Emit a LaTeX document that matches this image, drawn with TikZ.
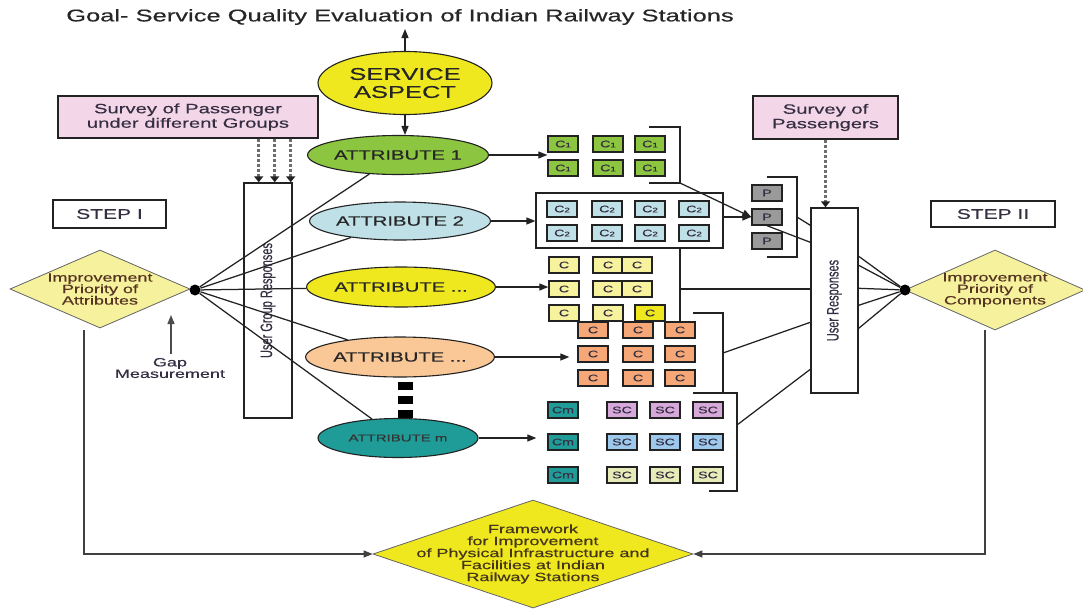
\documentclass[tikz,border=0pt]{standalone}
\usepackage{fontspec}
\setmainfont{Liberation Sans}[FakeStretch=1.5,FakeBold=0.4]
\newfontfamily\uprightsans{Liberation Sans}[FakeBold=0.4]
\usetikzlibrary{shapes.geometric,arrows.meta,calc}

\definecolor{inkline}{HTML}{222222}
\definecolor{txt}{HTML}{352E42}
\definecolor{txtbrown}{HTML}{553421}
\definecolor{txtolive}{HTML}{45361B}
\definecolor{surveypink}{HTML}{F3D6E7}
\definecolor{brightyellow}{HTML}{EFE81E}
\definecolor{attrgreen}{HTML}{8CC540}
\definecolor{attrblue}{HTML}{BEE0E6}
\definecolor{attrpeach}{HTML}{FAC797}
\definecolor{attrteal}{HTML}{1F9C98}
\definecolor{paleyellow}{HTML}{F7F29E}
\definecolor{salmon}{HTML}{F6A777}
\definecolor{lilac}{HTML}{D7A8DA}
\definecolor{skyblue}{HTML}{9DC9EC}
\definecolor{paleolive}{HTML}{E6EBB7}
\definecolor{pgray}{HTML}{9A9A9A}
\definecolor{dotgray}{HTML}{6E6E6E}
\definecolor{diamondyellow}{HTML}{F5F19C}

\newcommand{\setfs}[2]{\fontsize{#1}{#2}\selectfont}
\newcommand{\smalldigit}[1]{{\setfs{6.5}{7}#1}}

\begin{document}
\begin{tikzpicture}[x=1pt,y=-1pt,
  every node/.style={text=txt},
  conn/.style={draw=inkline,line width=1.25pt},
  arr/.style={conn,-{Triangle[length=9pt,width=7pt]}},
  dotarr/.style={draw=dotgray,line width=2.5pt,dash pattern=on 3pt off 2pt,
                 -{Triangle[length=6pt,width=9pt,color=inkline]}},
  plainbox/.style={rectangle,draw=inkline,line width=1.4pt,inner sep=0pt,fill=white},
  survey/.style={plainbox,fill=surveypink,align=center,font=\setfs{13.5}{14.5}},
  stepbox/.style={plainbox,font=\setfs{14}{16}},
  vlabel/.style={rotate=90,font=\uprightsans\setfs{11}{12}},
  attr/.style={ellipse,draw=inkline,line width=1.1pt,minimum width=160pt,
               minimum height=39pt,inner sep=0pt,font=\setfs{13.5}{15},text=black!85},
  cell/.style={rectangle,draw=inkline,line width=1.4pt,minimum width=30pt,
               minimum height=16pt,inner sep=0pt,font=\setfs{9.5}{10}},
  prio/.style={diamond,draw=inkline!70,line width=0.8pt,fill=diamondyellow,inner sep=0pt},
  priotext/.style={align=center,font=\setfs{12}{11.5},text=txtbrown},
  hub/.style={circle,fill=black,minimum size=11pt,inner sep=0pt},
]
\fill[white] (0,0) rectangle (1083,608);
\path[use as bounding box] (0,0) rectangle (1083,608);

% goal and service aspect
\node[font=\setfs{17}{20},text=black!85] (goal) at (400,17)
  {Goal- Service Quality Evaluation of Indian Railway Stations};
\coordinate (goaltip) at (405,29);
\node[ellipse,draw=inkline,line width=1.1pt,fill=brightyellow,minimum width=174pt,
      minimum height=63pt,inner sep=0pt,align=center,font=\setfs{17}{18},text=black!85]
  (sa) at (405,83) {SERVICE\\ASPECT};

% surveys and step labels
\node[survey,minimum width=260pt,minimum height=42pt] (sv1) at (188,117)
  {Survey of Passenger\\under different Groups};
\node[survey,minimum width=145pt,minimum height=43pt] (sv2) at (825.5,117.5)
  {Survey of\\Passengers};
\node[stepbox,minimum width=113pt,minimum height=28pt] (st1) at (109.5,214) {STEP I};
\node[stepbox,minimum width=124pt,minimum height=26pt] (st2) at (993,214) {STEP II};

% response collectors
\node[plainbox,minimum width=48pt,minimum height=235pt] (ugr) at (268,300.5) {};
\node[vlabel] (ugrtext) at (ugr.center) {\scalebox{1}[1.5]{User Group Responses}};
\node[plainbox,minimum width=47pt,minimum height=185pt] (ur) at (834.5,300.5) {};
\node[vlabel] (urtext) at (ur.center) {\scalebox{1}[1.5]{User Responses}};

% priority diamonds
\node[prio,minimum width=180pt,minimum height=78pt,
      label={[priotext]center:{Improvement\\Priority of\\Attributes}}] (d1) at (100,289) {};
\node[prio,minimum width=180pt,minimum height=80pt,
      label={[priotext]center:{Improvement\\Priority of\\Components}}] (d2) at (995,290) {};
\node[prio,fill=brightyellow,minimum width=320pt,minimum height=108pt,
      label={[priotext,text=txtolive,font=\setfs{12}{12}]center:{Framework\\for Improvement\\of Physical Infrastructure and\\Facilities at Indian\\Railway Stations}}]
  (d3) at (533,554) {};

% attributes
\node[attr,fill=attrgreen] (a1) at (398,155) {ATTRIBUTE 1};
\node[attr,fill=attrblue,minimum height=38pt] (a2) at (400,221) {ATTRIBUTE 2};
\node[attr,fill=brightyellow,minimum width=161pt,minimum height=40pt] (a3) at (401,287) {ATTRIBUTE ...};
\node[attr,fill=attrpeach,minimum height=40pt] (a4) at (400,357) {ATTRIBUTE ...};
\node[attr,fill=attrteal,font=\setfs{10}{11},text=black!80] (am) at (398,438) {ATTRIBUTE m};
\foreach \y in {386,400,414} \fill[black] (397.5,\y-4) rectangle (412.5,\y+4);

% junction points
\node[hub] (hl) at (195,290) {};
\node[hub] (hr) at (905,290) {};

% gap measurement
\node[align=center,font=\setfs{12}{11.5}] (gap) at (170,368) {Gap\\Measurement};
\coordinate (gaptip) at (171,315);
\draw[arr,draw=black!70] (gap.north -| gaptip) -- (gaptip);

% component groups
\foreach \r/\y in {1/144,2/168}
  \foreach \c/\x in {1/563,2/608,3/650}
    \node[cell,fill=attrgreen] (ca\r\c) at (\x,\y) {C\smalldigit{1}};
\node[plainbox,line width=1.2pt,minimum width=187pt,minimum height=55pt] (cbox) at (629.5,220.5) {};
\foreach \r/\y in {1/209,2/233}
  \foreach \c/\x in {1/562,2/607,3/650,4/694}
    \node[cell,fill=attrblue] (cb\r\c) at (\x,\y) {C\smalldigit{2}};
\foreach \r/\y in {1/265,2/289}
  \foreach \c/\x in {1/564,2/608,3/637}
    \node[cell,fill=paleyellow] (cc\r\c) at (\x,\y) {C};
\node[cell,fill=paleyellow] (cc31) at (564,313) {C};
\node[cell,fill=paleyellow] (cc32) at (608,313) {C};
\node[cell,fill=brightyellow] (cc33) at (650,313) {C};
\foreach \r/\y in {1/330,2/354,3/378}
  \foreach \c/\x in {1/593,2/638,3/680}
    \node[cell,fill=salmon] (co\r\c) at (\x,\y) {C};
\foreach \r/\y/\col in {1/410/lilac,2/442/skyblue,3/475/paleolive}{
  \node[cell,fill=attrteal] (cm\r) at (563,\y) {Cm};
  \foreach \c/\x in {1/622,2/665,3/708}
    \node[cell,fill=\col] (cs\r\c) at (\x,\y) {SC};
}
\foreach \r/\y in {1/193,2/217,3/241}
  \node[cell,fill=pgray] (p\r) at (767,\y) {P};

% service aspect links
\draw[arr] (sa.north) -- (goaltip);
\draw[arr] (sa.south) -- (sa.south |- a1.north);

% attributes to their components
\draw[arr] (a1.east) -- (a1.east -| ca11.west);
\draw[arr] (a2.east) -- (a2.east -| cbox.west);
\draw[arr] (a3.east) -- (a3.east -| cc21.west);
\draw[arr,shorten >=8pt] (a4.east) -- (a4.east -| co21.west);
\draw[arr,shorten >=11pt] (am.east) -- (am.east -| cm2.west);

% junction fan to attributes
\foreach \n in {a1,a2,a3,a4,am} \draw[conn] (hl) -- (\n);

% survey feeds
\coordinate (s1a) at ($(sv1.south east)+(-60,0)$);
\coordinate (s1b) at ($(sv1.south east)+(-44,0)$);
\coordinate (s1c) at ($(sv1.south east)+(-28,0)$);
\foreach \s in {s1a,s1b,s1c} \draw[dotarr] (\s) -- (\s |- ugr.north);
\draw[dotarr] (sv2.south) -- (sv2.south |- ur.north);

% brackets and links into the user responses
\coordinate (b1) at (680,183);
\draw[conn] (649,127) -| (b1) -- (649,183);
\draw[arr] (b1) -- (p2.west);
\draw[arr] (cbox.east |- p2.west) -- (p2.west);
\coordinate (pb) at (797,217);
\draw[conn] (767,177) -| (797,257) -- (767,257);
\draw[conn] (pb) -- ($(ur.north west)+(0,18)$);
\draw[conn] (p2.south) -- ($(ur.north west)+(0,35)$);
\draw[conn] (cbox.south -| co13.north) -- (co13.north);
\coordinate (vj) at (680,289);
\draw[conn] (vj) -- (vj -| ur.west);
\coordinate (ob) at (723,353);
\draw[conn] (693,313) -| (723,393) -- (693,393);
\draw[conn] (723,393) -- (737,393) -- (737,491) -- (709,491);
\coordinate (sb) at (737,425);
\draw[conn] (ob) -- ($(ur.north west)+(0,115)$);
\draw[conn] (sb) -- ($(ur.north west)+(0,162)$);
\foreach \dy in {49,58,81,98,121} \draw[conn] ($(ur.north east)+(0,\dy)$) -- (hr);

% both steps feed the framework
\coordinate (dl) at ($(d1.south)+(-16,2)$);
\draw[arr,draw=black!75] (dl) |- (d3.west);
\coordinate (dr) at ($(d2.south)+(-10,0)$);
\draw[arr,draw=black!75] (dr) |- (d3.east);
\end{tikzpicture}
\end{document}
